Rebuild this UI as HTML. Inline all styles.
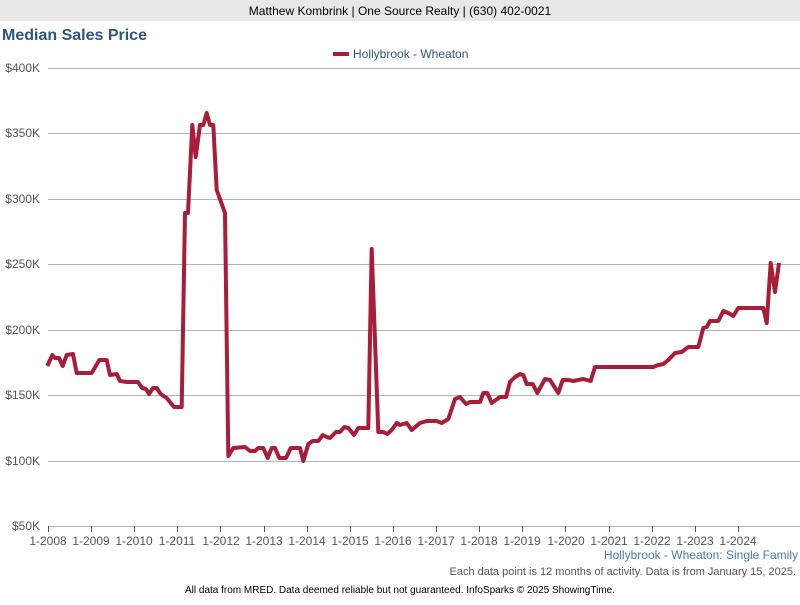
<!DOCTYPE html>
<html><head><meta charset="utf-8"><style>
body{margin:0;width:800px;height:600px;overflow:hidden;background:#fff;font-family:"Liberation Sans",Arial,sans-serif;}
</style></head><body>
<svg width="800" height="600" xmlns="http://www.w3.org/2000/svg" font-family="Liberation Sans, Arial, sans-serif">
<rect x="0" y="0" width="800" height="21" fill="#e8e8e8"/>
<text x="400" y="15" font-size="12" text-anchor="middle" fill="#000">Matthew Kombrink | One Source Realty | (630) 402-0021</text>
<text x="2" y="40" font-size="16" font-weight="bold" fill="#2e5480">Median Sales Price</text>
<line x1="333" y1="54" x2="349" y2="54" stroke="#a91d39" stroke-width="4"/>
<text x="353" y="58" font-size="12" fill="#2e5480">Hollybrook - Wheaton</text>
<g stroke="#b4b4b4" stroke-width="1">
<line x1="48" y1="68.5" x2="800" y2="68.5"/><line x1="48" y1="133.5" x2="800" y2="133.5"/>
<line x1="48" y1="199.5" x2="800" y2="199.5"/><line x1="48" y1="264.5" x2="800" y2="264.5"/>
<line x1="48" y1="330.5" x2="800" y2="330.5"/><line x1="48" y1="395.5" x2="800" y2="395.5"/>
<line x1="48" y1="461.5" x2="800" y2="461.5"/><line x1="48" y1="526.5" x2="800" y2="526.5"/>
</g>
<g font-size="12" fill="#555" text-anchor="end">
<text x="40" y="72">$400K</text><text x="40" y="137">$350K</text><text x="40" y="203">$300K</text>
<text x="40" y="268">$250K</text><text x="40" y="334">$200K</text><text x="40" y="399">$150K</text>
<text x="40" y="465">$100K</text><text x="40" y="530">$50K</text>
</g>
<g stroke="#555" stroke-width="1">
<line x1="48.5" y1="526" x2="48.5" y2="532"/><line x1="91.5" y1="526" x2="91.5" y2="532"/>
<line x1="134.5" y1="526" x2="134.5" y2="532"/><line x1="177.5" y1="526" x2="177.5" y2="532"/>
<line x1="220.5" y1="526" x2="220.5" y2="532"/><line x1="264.5" y1="526" x2="264.5" y2="532"/>
<line x1="307.5" y1="526" x2="307.5" y2="532"/><line x1="350.5" y1="526" x2="350.5" y2="532"/>
<line x1="393.5" y1="526" x2="393.5" y2="532"/><line x1="436.5" y1="526" x2="436.5" y2="532"/>
<line x1="479.5" y1="526" x2="479.5" y2="532"/><line x1="522.5" y1="526" x2="522.5" y2="532"/>
<line x1="565.5" y1="526" x2="565.5" y2="532"/><line x1="609.5" y1="526" x2="609.5" y2="532"/>
<line x1="652.5" y1="526" x2="652.5" y2="532"/><line x1="695.5" y1="526" x2="695.5" y2="532"/>
<line x1="738.5" y1="526" x2="738.5" y2="532"/>
</g>
<g font-size="12" fill="#555" text-anchor="middle">
<text x="48" y="545">1-2008</text><text x="91" y="545">1-2009</text><text x="134" y="545">1-2010</text>
<text x="177" y="545">1-2011</text><text x="221" y="545">1-2012</text><text x="264" y="545">1-2013</text>
<text x="307" y="545">1-2014</text><text x="350" y="545">1-2015</text><text x="393" y="545">1-2016</text>
<text x="436" y="545">1-2017</text><text x="479" y="545">1-2018</text><text x="522" y="545">1-2019</text>
<text x="566" y="545">1-2020</text><text x="609" y="545">1-2021</text><text x="652" y="545">1-2022</text>
<text x="695" y="545">1-2023</text><text x="738" y="545">1-2024</text>
</g>
<polyline fill="none" stroke="#a91d39" stroke-width="4" stroke-linejoin="round" points="47.3,366 52.3,355 55,358 59,358 62.7,366 66.7,355 73,354 76.7,373 91.7,373 99.3,360 106.7,360 110,375 116.7,374 120,381 127,382 138,382 142,388 146,389 149,394 153,388 156.7,388 160.7,394 166.7,398 174,407 181.7,407 185,213 188,213 192.3,125 195.7,157 200,125 203.3,125 206.7,113 210,125 213.3,125 216.7,190 225,213 228.3,456 233.3,448 245,447 250,451 255,451 258.3,448 263.3,448 267.7,458 271.7,448 275,448 279.3,458 286,458 290.7,448 300,448 303.3,461 308.3,444 312.7,441 318.3,441 322.7,435 326.7,437 330,438 336,432 340,432 344.3,427 348.3,428 354,435 358.3,428 368.3,428 371.7,249 378.3,432 383.3,432 387.3,434 391.7,430 396.7,423 400,425 406.7,423 411.7,430 420,423 426.7,421 436.7,421 441.7,423 448.3,419 455,399 460,397 466,404 470,402 480,402 483.3,393 487.3,393 491.7,403 500,397 506,397 510,382 515,377 520,374 523.3,375 526.7,384 532.7,384 537.3,393 545,379 550,380 558.3,393 562.7,380 568.3,380 573.3,381 583.3,379 590.7,381 595,367 646.7,367 653.3,367 658.3,365 663.3,364 668.3,360 675,353 681.7,352 688.3,347 698.3,347 703.3,328 706.7,327 710,321 718.3,321 723.3,311 728.3,313 733.3,316 738.3,308 763.3,308 766.7,323 770.7,263 775,292 779,263"/>
<text x="798" y="559" font-size="12" fill="#4a78b0" text-anchor="end">Hollybrook - Wheaton: Single Family</text>
<text x="796" y="575" font-size="11" fill="#555" text-anchor="end">Each data point is 12 months of activity. Data is from January 15, 2025.</text>
<text x="400" y="593" font-size="10" fill="#000" text-anchor="middle">All data from MRED. Data deemed reliable but not guaranteed. InfoSparks © 2025 ShowingTime.</text>
</svg>
</body></html>
